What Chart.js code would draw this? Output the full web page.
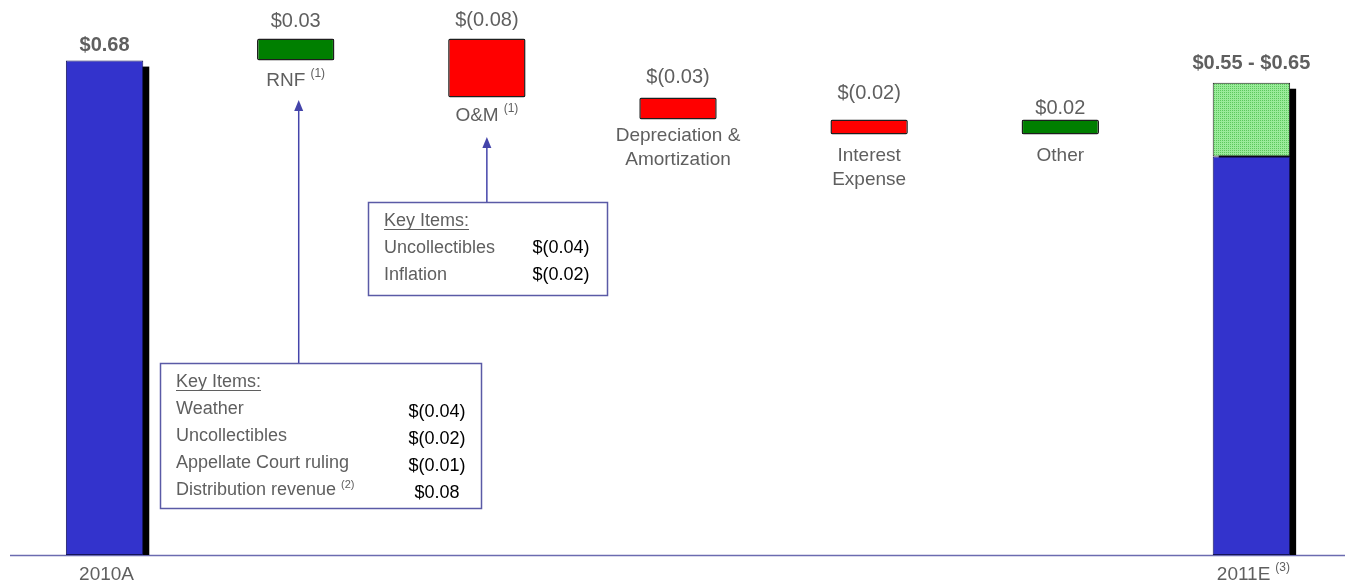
<!DOCTYPE html>
<html>
<head>
<meta charset="utf-8">
<script src="https://cdn.jsdelivr.net/npm/chart.js@4"></script>
<style>
  body { margin: 0; background: #fff; }
</style>
</head>
<body>
<canvas id="myChart" width="1348" height="587"></canvas>
<script>
// data
var categories = ['2010A', 'RNF', 'O&M', 'Depreciation & Amortization', 'Interest Expense', 'Other', '2011E'];
var categoryLines = [['2010A'], ['RNF'], ['O&M'], ['Depreciation &', 'Amortization'], ['Interest', 'Expense'], ['Other'], ['2011E']];
var categoryNotes = ['', '(1)', '(1)', '', '', '', '(3)'];
var startValue = 0.68;
var changes = [0.03, -0.08, -0.03, -0.02, 0.02];
var guidanceLow = 0.55;
var guidanceHigh = 0.65;
var axisMin = 0.01;
var axisMax = 0.735;

var rnfItems = ['Weather', 'Uncollectibles', 'Appellate Court ruling', 'Distribution revenue'];
var rnfNotes = ['', '', '', '(2)'];
var rnfValues = [-0.04, -0.02, -0.01, 0.08];
var omItems = ['Uncollectibles', 'Inflation'];
var omNotes = ['', ''];
var omValues = [-0.04, -0.02];

var BLUE = '#3333CC';
var GREEN = '#007F00';
var RED = '#FF0000';
var GREY = '#5f5f5f';
var FONT = '"Liberation Sans", Arial, sans-serif';

function money(v) {
  return v < 0 ? '$(' + Math.abs(v).toFixed(2) + ')' : '$' + v.toFixed(2);
}

// waterfall bars
var mainBars = [[axisMin, startValue]];
var running = startValue;
changes.forEach(function (c) {
  mainBars.push([running, running + c]);
  running += c;
});
mainBars.push([axisMin, guidanceLow]);
var rangeBars = categories.map(function (c, i) {
  return i === categories.length - 1 ? [guidanceLow, guidanceHigh] : null;
});

var barColors = [BLUE];
var borderColors = ['#14145a'];
changes.forEach(function (c) {
  barColors.push(c < 0 ? RED : GREEN);
  borderColors.push('#1e1e1e');
});
barColors.push(BLUE);
borderColors.push('#14145a');

var valueLabels = [money(startValue)];
changes.forEach(function (c) { valueLabels.push(money(c)); });
valueLabels.push(money(guidanceLow) + ' - ' + money(guidanceHigh));

// dotted light green fill for the guidance range
var pc = document.createElement('canvas');
pc.width = 2; pc.height = 2;
var pctx = pc.getContext('2d');
pctx.fillStyle = '#9aeb9a';
pctx.fillRect(0, 0, 2, 2);
pctx.fillStyle = '#5cc85c';
pctx.fillRect(0, 0, 1, 1);
var rangeFill = pctx.createPattern(pc, 'repeat');

// layout bits for the labels
var valueGap = [10, 11, 12, 14, 21, 6, 14];
var catGap = [0, 20, 18, 16, 21, 21, 0];
var keyBoxes = [
  { bar: 1, x: 160, y: 363, w: 321, h: 145, tip: 100, valueX: 277, valueDy: 3, items: rnfItems, notes: rnfNotes, values: rnfValues },
  { bar: 2, x: 368, y: 202, w: 239, h: 93, tip: 137, valueX: 193, valueDy: 0, items: omItems, notes: omNotes, values: omValues }
];

function textWithNote(ctx, text, note, cx, cy, size, align) {
  ctx.font = size + 'px ' + FONT;
  var w = ctx.measureText(text).width;
  var noteSize = Math.round(size * 0.62);
  ctx.font = noteSize + 'px ' + FONT;
  var nw = note ? ctx.measureText(note).width + 5 : 0;
  var x = align === 'left' ? cx : cx - (w + nw) / 2;
  ctx.textAlign = 'left';
  ctx.font = size + 'px ' + FONT;
  ctx.fillText(text, x, cy);
  if (note) {
    ctx.font = noteSize + 'px ' + FONT;
    ctx.fillText(note, x + w + 5, cy - size * 0.38);
  }
}

var waterfallPlugin = {
  id: 'waterfall',
  beforeDatasetsDraw: function (chart) {
    var ctx = chart.ctx;
    var area = chart.chartArea;
    var bars = chart.getDatasetMeta(0).data;
    var range = chart.getDatasetMeta(1).data;
    ctx.save();
    // axis line
    ctx.strokeStyle = '#6b6bb0';
    ctx.lineWidth = 1.5;
    ctx.beginPath();
    ctx.moveTo(10, area.bottom + 0.5);
    ctx.lineTo(1345, area.bottom + 0.5);
    ctx.stroke();
    // drop shadows of the total bars
    ctx.fillStyle = '#000';
    [0, categories.length - 1].forEach(function (i) {
      var b = bars[i];
      var top = Math.min(b.y, b.base);
      if (rangeBars[i]) top = Math.min(top, range[i].y, range[i].base);
      var bottom = Math.max(b.y, b.base);
      ctx.fillRect(b.x - b.width / 2 + 6, top + 6, b.width, bottom - top - 6);
    });
    ctx.restore();
  },
  afterDatasetsDraw: function (chart) {
    var ctx = chart.ctx;
    var area = chart.chartArea;
    var bars = chart.getDatasetMeta(0).data;
    var range = chart.getDatasetMeta(1).data;
    var last = categories.length - 1;
    ctx.save();
    ctx.textBaseline = 'alphabetic';
    bars.forEach(function (b, i) {
      var top = Math.min(b.y, b.base);
      var bottom = Math.max(b.y, b.base);
      if (rangeBars[i]) top = Math.min(top, range[i].y, range[i].base);
      var bold = (i === 0 || i === last);
      ctx.fillStyle = GREY;
      ctx.textAlign = 'center';
      ctx.font = (bold ? 'bold ' : '') + '20px ' + FONT;
      ctx.fillText(valueLabels[i], b.x, top - valueGap[i]);

      ctx.textBaseline = 'middle';
      if (bold) {
        textWithNote(ctx, categoryLines[i][0], categoryNotes[i], b.x + 2, area.bottom + 20, 19);
      } else {
        categoryLines[i].forEach(function (line, k) {
          textWithNote(ctx, line, k === 0 ? categoryNotes[i] : '', b.x, bottom + catGap[i] + k * 24, 19);
        });
      }
      ctx.textBaseline = 'alphabetic';
    });

    // key item call-outs
    keyBoxes.forEach(function (box) {
      var b = bars[box.bar];
      var ax = b.x + (box.bar === 1 ? 3 : 0);
      ctx.strokeStyle = '#4444aa';
      ctx.fillStyle = '#4444aa';
      ctx.lineWidth = 1.5;
      ctx.beginPath();
      ctx.moveTo(ax, box.y);
      ctx.lineTo(ax, box.tip + 8);
      ctx.stroke();
      ctx.beginPath();
      ctx.moveTo(ax, box.tip);
      ctx.lineTo(ax - 4.5, box.tip + 11);
      ctx.lineTo(ax + 4.5, box.tip + 11);
      ctx.closePath();
      ctx.fill();

      ctx.fillStyle = '#fff';
      ctx.fillRect(box.x, box.y, box.w, box.h);
      ctx.strokeStyle = '#5a5aa6';
      ctx.strokeRect(box.x + 0.5, box.y + 0.5, box.w, box.h);

      ctx.fillStyle = GREY;
      ctx.font = '18px ' + FONT;
      ctx.textAlign = 'left';
      var tx = box.x + 16;
      var ty = box.y + 24;
      ctx.fillText('Key Items:', tx, ty);
      var tw = ctx.measureText('Key Items:').width;
      ctx.strokeStyle = GREY;
      ctx.lineWidth = 1;
      ctx.beginPath();
      ctx.moveTo(tx, ty + 3.5);
      ctx.lineTo(tx + tw, ty + 3.5);
      ctx.stroke();

      box.items.forEach(function (item, k) {
        var y = ty + 27 * (k + 1);
        ctx.fillStyle = GREY;
        textWithNote(ctx, item, box.notes[k], tx, y, 18, 'left');
        ctx.fillStyle = '#000';
        ctx.textAlign = 'center';
        ctx.font = '18px ' + FONT;
        ctx.fillText(money(box.values[k]), box.x + box.valueX, y + box.valueDy);
      });
    });
    ctx.restore();
  }
};

var ctx = document.getElementById('myChart').getContext('2d');
var myChart = new Chart(ctx, {
  type: 'bar',
  data: {
    labels: categories,
    datasets: [{
      label: 'EPS',
      data: mainBars,
      backgroundColor: barColors,
      borderColor: borderColors,
      borderWidth: [1, 1.5, 1.5, 1.5, 1.5, 1.5, 1],
      borderRadius: [0, 2, 2, 2, 2, 2, 0],
      borderSkipped: false,
      grouped: false,
      barPercentage: 0.405,
      categoryPercentage: 1
    }, {
      label: 'Guidance range',
      data: rangeBars,
      backgroundColor: rangeFill,
      borderColor: '#1e1e1e',
      borderWidth: 1,
      borderSkipped: false,
      grouped: false,
      barPercentage: 0.405,
      categoryPercentage: 1
    }]
  },
  options: {
    responsive: false,
    animation: false,
    layout: { padding: { left: 9, right: 1, top: 20, bottom: 32 } },
    plugins: {
      legend: { display: false },
      tooltip: { enabled: false }
    },
    scales: {
      x: { display: false },
      y: { display: false, min: axisMin, max: axisMax }
    }
  },
  plugins: [waterfallPlugin]
});
</script>
</body>
</html>
